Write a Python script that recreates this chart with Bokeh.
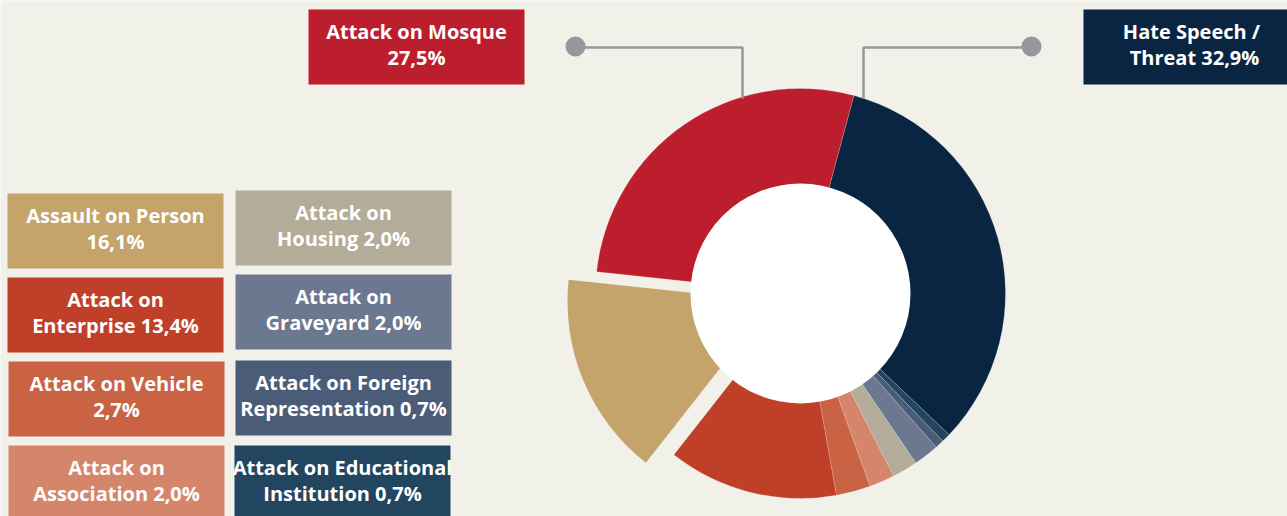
import math
from bokeh.plotting import figure
from bokeh.models import Range1d
from bokeh.embed import file_html
from bokeh.resources import INLINE
from bokeh.core.properties import value

# ---------------- data ----------------
categories = ["Hate Speech / Threat", "Attack on Educational Institution",
              "Attack on Foreign Representation", "Attack on Graveyard",
              "Attack on Housing", "Attack on Association", "Attack on Vehicle",
              "Attack on Enterprise", "Assault on Person", "Attack on Mosque"]
shares = [32.9, 0.7, 0.7, 2.0, 2.0, 2.0, 2.7, 13.4, 16.1, 27.5]
colors = ["#0a2542", "#224560", "#4a5c78", "#6b7890", "#b3ac98",
          "#d4856a", "#c96344", "#bf3f28", "#c4a46a", "#bc1e2d"]
label_lines = [["Hate Speech /", "Threat {p}"],
               ["Attack on Educational", "Institution {p}"],
               ["Attack on Foreign", "Representation {p}"],
               ["Attack on", "Graveyard {p}"],
               ["Attack on", "Housing {p}"],
               ["Attack on", "Association {p}"],
               ["Attack on Vehicle", "{p}"],
               ["Attack on", "Enterprise {p}"],
               ["Assault on Person", "{p}"],
               ["Attack on Mosque", "{p}"]]

# ---------------- layout (page pixel coords, y down) ----------------
PAGE_W, PAGE_H = 1287, 516
BG = "#f1f0e9"
CX, CY = 800, 293          # donut centre
R_OUT, R_IN = 205, 110
START_CW = 15.1            # degrees clockwise from 12 o'clock where first slice starts
exploded = {"Assault on Person": (-28, 8)}   # screen offset of exploded slice
box_pos = {  # left, top, width, height
    "Hate Speech / Threat": (1083, 9, 210, 75),
    "Attack on Educational Institution": (234, 445, 216, 80),
    "Attack on Foreign Representation": (235, 360, 216, 75),
    "Attack on Graveyard": (235, 274, 216, 75),
    "Attack on Housing": (235, 190, 216, 75),
    "Attack on Association": (8, 445, 216, 80),
    "Attack on Vehicle": (8, 361, 216, 75),
    "Attack on Enterprise": (7, 277, 216, 75),
    "Assault on Person": (7, 193, 216, 75),
    "Attack on Mosque": (308, 9, 216, 75),
}
text_dx = {"Hate Speech / Threat": [0, 3]}


def Y(py):
    return PAGE_H - py


p = figure(width=PAGE_W, height=PAGE_H, output_backend="svg", toolbar_location=None,
           x_range=Range1d(0, PAGE_W), y_range=Range1d(0, PAGE_H),
           min_border=0, x_axis_type=None, y_axis_type=None)
p.grid.visible = False
p.outline_line_color = None
p.background_fill_color = BG
p.border_fill_color = BG

# ---------------- donut ----------------
total = sum(shares)
cw = START_CW
for cat, v, col in zip(categories, shares, colors):
    a1 = cw
    a2 = cw + v / total * 360.0
    cw = a2
    start = math.radians(90 - a2)
    end = math.radians(90 - a1)
    if cat in exploded:
        dx, dy = exploded[cat]
        p.wedge(x=CX + dx, y=Y(CY + dy), radius=R_OUT, start_angle=start,
                end_angle=end, fill_color=col, line_color=None)
    else:
        p.annular_wedge(x=CX, y=Y(CY), inner_radius=R_IN - 2, outer_radius=R_OUT,
                        start_angle=start, end_angle=end, fill_color=col,
                        line_color="#ffffff", line_alpha=0.25, line_width=0.7)

p.circle(x=CX, y=Y(CY), radius=R_IN, fill_color="#ffffff", line_color=None)

# ---------------- leader lines ----------------
lead_col = "#97979b"
p.line(x=[575, 742, 742], y=[Y(47), Y(47), Y(98)], line_color=lead_col, line_width=2.5)
p.line(x=[1031, 863, 863], y=[Y(47), Y(47), Y(98)], line_color=lead_col, line_width=2.5)
p.scatter(x=[575, 1031], y=[Y(46), Y(46)], size=20, fill_color=lead_col, line_color=None)

# ---------------- label boxes ----------------
for cat, v, col, lines in zip(categories, shares, colors, label_lines):
    l, t, w, h = box_pos[cat]
    p.quad(left=l, right=l + w, top=Y(t), bottom=Y(t + h), fill_color=col, line_color=None)
    pct = f"{v:.1f}".replace(".", ",") + "%"
    cx = l + 108
    dxs = text_dx.get(cat, [0, 0])
    for i, ln in enumerate(lines):
        p.text(x=[cx + dxs[i]], y=[Y(t + 22 + 26 * i)], text=[ln.format(p=pct)],
               text_font=value("Open Sans"), text_font_style="bold",
               text_font_size="20px", text_color="#ffffff",
               text_align="center", text_baseline="alphabetic")

open("out.html", "w").write(file_html(p, INLINE))
